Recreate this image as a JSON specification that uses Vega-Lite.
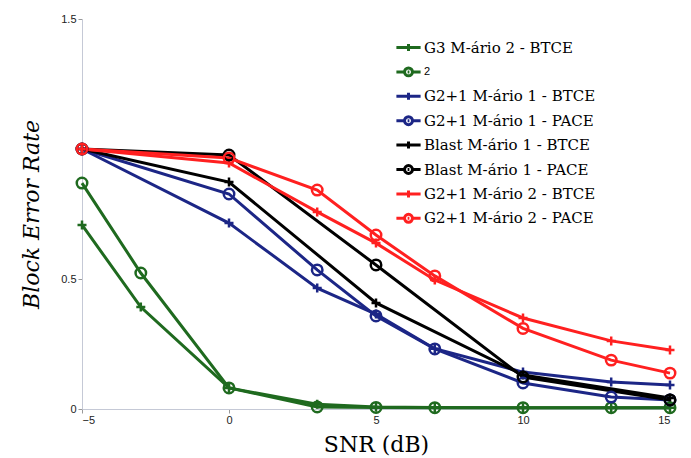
{
  "$schema": "https://vega.github.io/schema/vega-lite/v6.json",
  "width": 588,
  "height": 390,
  "autosize": {"type": "none"},
  "padding": {"left": 82, "top": 19, "right": 21, "bottom": 49},
  "background": "white",
  "config": {"view": {"stroke": null}, "axis": {"grid": false}, "font": "DejaVu Serif"},
  "data": {
    "values": [
      {"s": "G3 M-ário 2 - BTCE", "x": -5, "y": 0.708},
      {"s": "G3 M-ário 2 - BTCE", "x": -3, "y": 0.392},
      {"s": "G3 M-ário 2 - BTCE", "x": 0, "y": 0.081},
      {"s": "G3 M-ário 2 - BTCE", "x": 3, "y": 0.018},
      {"s": "G3 M-ário 2 - BTCE", "x": 5, "y": 0.008},
      {"s": "G3 M-ário 2 - BTCE", "x": 7, "y": 0.006},
      {"s": "G3 M-ário 2 - BTCE", "x": 10, "y": 0.005},
      {"s": "G3 M-ário 2 - BTCE", "x": 13, "y": 0.005},
      {"s": "G3 M-ário 2 - BTCE", "x": 15, "y": 0.005},
      {"s": "2", "x": -5, "y": 0.869},
      {"s": "2", "x": -3, "y": 0.523},
      {"s": "2", "x": 0, "y": 0.081},
      {"s": "2", "x": 3, "y": 0.008},
      {"s": "2", "x": 5, "y": 0.006},
      {"s": "2", "x": 7, "y": 0.005},
      {"s": "2", "x": 10, "y": 0.005},
      {"s": "2", "x": 13, "y": 0.005},
      {"s": "2", "x": 15, "y": 0.005},
      {"s": "G2+1 M-ário 1 - BTCE", "x": -5, "y": 1.0},
      {"s": "G2+1 M-ário 1 - BTCE", "x": 0, "y": 0.715},
      {"s": "G2+1 M-ário 1 - BTCE", "x": 3, "y": 0.465},
      {"s": "G2+1 M-ário 1 - BTCE", "x": 5, "y": 0.365},
      {"s": "G2+1 M-ário 1 - BTCE", "x": 7, "y": 0.232},
      {"s": "G2+1 M-ário 1 - BTCE", "x": 10, "y": 0.142},
      {"s": "G2+1 M-ário 1 - BTCE", "x": 13, "y": 0.104},
      {"s": "G2+1 M-ário 1 - BTCE", "x": 15, "y": 0.092},
      {"s": "G2+1 M-ário 1 - PACE", "x": -5, "y": 1.0},
      {"s": "G2+1 M-ário 1 - PACE", "x": 0, "y": 0.827},
      {"s": "G2+1 M-ário 1 - PACE", "x": 3, "y": 0.535},
      {"s": "G2+1 M-ário 1 - PACE", "x": 5, "y": 0.358},
      {"s": "G2+1 M-ário 1 - PACE", "x": 7, "y": 0.231},
      {"s": "G2+1 M-ário 1 - PACE", "x": 10, "y": 0.1},
      {"s": "G2+1 M-ário 1 - PACE", "x": 13, "y": 0.046},
      {"s": "G2+1 M-ário 1 - PACE", "x": 15, "y": 0.035},
      {"s": "Blast M-ário 1 - BTCE", "x": -5, "y": 1.0},
      {"s": "Blast M-ário 1 - BTCE", "x": 0, "y": 0.873},
      {"s": "Blast M-ário 1 - BTCE", "x": 5, "y": 0.408},
      {"s": "Blast M-ário 1 - BTCE", "x": 10, "y": 0.131},
      {"s": "Blast M-ário 1 - BTCE", "x": 15, "y": 0.042},
      {"s": "Blast M-ário 1 - PACE", "x": -5, "y": 1.0},
      {"s": "Blast M-ário 1 - PACE", "x": 0, "y": 0.977},
      {"s": "Blast M-ário 1 - PACE", "x": 5, "y": 0.554},
      {"s": "Blast M-ário 1 - PACE", "x": 10, "y": 0.123},
      {"s": "Blast M-ário 1 - PACE", "x": 15, "y": 0.035},
      {"s": "G2+1 M-ário 2 - BTCE", "x": -5, "y": 1.0},
      {"s": "G2+1 M-ário 2 - BTCE", "x": 0, "y": 0.946},
      {"s": "G2+1 M-ário 2 - BTCE", "x": 3, "y": 0.758},
      {"s": "G2+1 M-ário 2 - BTCE", "x": 5, "y": 0.638},
      {"s": "G2+1 M-ário 2 - BTCE", "x": 7, "y": 0.496},
      {"s": "G2+1 M-ário 2 - BTCE", "x": 10, "y": 0.35},
      {"s": "G2+1 M-ário 2 - BTCE", "x": 13, "y": 0.262},
      {"s": "G2+1 M-ário 2 - BTCE", "x": 15, "y": 0.227},
      {"s": "G2+1 M-ário 2 - PACE", "x": -5, "y": 1.0},
      {"s": "G2+1 M-ário 2 - PACE", "x": 0, "y": 0.965},
      {"s": "G2+1 M-ário 2 - PACE", "x": 3, "y": 0.842},
      {"s": "G2+1 M-ário 2 - PACE", "x": 5, "y": 0.669},
      {"s": "G2+1 M-ário 2 - PACE", "x": 7, "y": 0.512},
      {"s": "G2+1 M-ário 2 - PACE", "x": 10, "y": 0.31},
      {"s": "G2+1 M-ário 2 - PACE", "x": 13, "y": 0.188},
      {"s": "G2+1 M-ário 2 - PACE", "x": 15, "y": 0.138}
    ]
  },
  "encoding": {
    "x": {
      "field": "x", "type": "quantitative",
      "scale": {"domain": [-5, 15], "nice": false},
      "axis": {
        "values": [-5, 0, 5, 10, 15], "title": "SNR (dB)",
        "titleFont": "DejaVu Serif", "titleFontSize": 22, "titleFontWeight": "normal", "titleColor": "black",
        "titlePadding": 9,
        "labelFont": "Liberation Sans", "labelFontSize": 11, "labelColor": "#222",
        "domainColor": "#c5c9d6", "tickColor": "#999", "tickSize": 4, "labelPadding": 1
      }
    },
    "y": {
      "field": "y", "type": "quantitative",
      "scale": {"domain": [0, 1.5], "nice": false},
      "axis": {
        "values": [0, 0.5, 1.5], "format": "~g", "title": "Block Error Rate",
        "titleFont": "DejaVu Serif", "titleFontSize": 22, "titleFontStyle": "italic", "titleFontWeight": "normal", "titleColor": "black",
        "titlePadding": 17,
        "labelFont": "Liberation Sans", "labelFontSize": 11, "labelColor": "#222",
        "domainColor": "#c5c9d6", "tickColor": "#999", "tickSize": 4, "labelPadding": 2
      }
    },
    "color": {
      "field": "s", "type": "nominal",
      "scale": {
        "domain": ["G3 M-ário 2 - BTCE", "2", "G2+1 M-ário 1 - BTCE", "G2+1 M-ário 1 - PACE", "Blast M-ário 1 - BTCE", "Blast M-ário 1 - PACE", "G2+1 M-ário 2 - BTCE", "G2+1 M-ário 2 - PACE"],
        "range": ["#1f6a1f", "#1f6a1f", "#1c2686", "#1c2686", "#000000", "#000000", "#ff2020", "#ff2020"]
      },
      "legend": {
        "title": null, "orient": "none", "legendX": 314, "legendY": 16, "padding": 0,
        "symbolSize": 484, "symbolStrokeWidth": 3, "rowPadding": 1.4,
        "labelFont": "DejaVu Serif", "labelFontSize": 15, "labelColor": "black", "labelOffset": 3, "labelLimit": 400,
        "encode": {
          "symbols": {
            "update": {
              "shape": {"signal": "indexof(datum.value, 'BTCE') >= 0 ? 'M-1.1,0H1.1M0,-0.32V0.32' : 'M-1.1,0H-0.36M0.36,0H1.1M-0.36,0A0.36,0.36,0,1,0,0.36,0A0.36,0.36,0,1,0,-0.36,0M-0.08,0H0.08'"},
              "fill": {"value": "transparent"},
              "strokeWidth": {"value": 3}
            }
          },
          "labels": {
            "update": {
              "font": {"signal": "datum.value == '2' ? 'Liberation Sans' : 'DejaVu Serif'"},
              "fontSize": {"signal": "datum.value == '2' ? 11 : 15"}
            }
          }
        }
      }
    }
  },
  "layer": [
    {"mark": {"type": "line", "strokeWidth": 3}},
    {
      "transform": [{"filter": "indexof(datum.s, 'BTCE') >= 0"}],
      "mark": {"type": "point", "shape": "M-1,0H1M0,-1V1", "size": 81, "strokeWidth": 2.5, "filled": false, "opacity": 1}
    },
    {
      "transform": [{"filter": "indexof(datum.s, 'BTCE') < 0"}],
      "mark": {"type": "point", "shape": "circle", "size": 110, "strokeWidth": 2.5, "filled": false, "opacity": 1}
    }
  ]
}
